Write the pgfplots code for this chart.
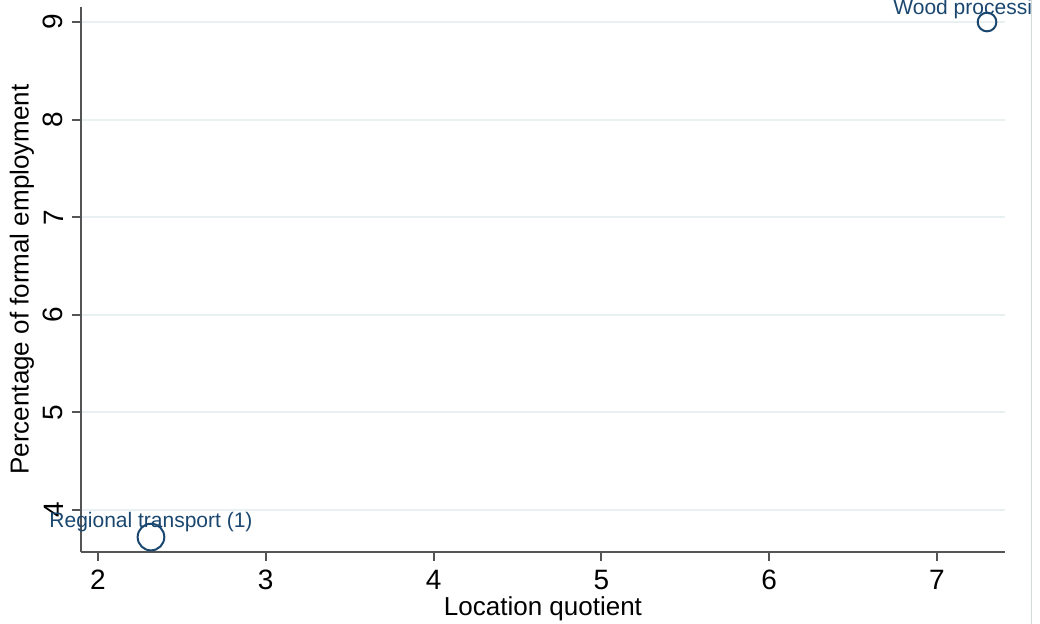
\documentclass[border=0pt]{standalone}
\usepackage{fontspec}
\setmainfont{Liberation Sans}
\usepackage{pgfplots}
\pgfplotsset{compat=1.18}
\definecolor{stnavy}{RGB}{26,71,111}
\definecolor{gridc}{RGB}{232,240,242}
\definecolor{axc}{RGB}{85,85,85}
\begin{document}
\begin{tikzpicture}
\path[use as bounding box] (0,0) rectangle (780pt,468pt);
\draw[gridc!80!gray, line width=0.75pt] (773.6pt,0) -- (773.6pt,468pt);
\begin{scope}
\clip (0,0) rectangle (772.5pt,468pt);
\begin{axis}[
  at={(60.75pt,54pt)}, anchor=south west,
  scale only axis, width=693pt, height=408.75pt,
  xmin=1.899, xmax=7.405, ymin=3.570, ymax=9.154,
  axis x line*=bottom, axis y line*=left,
  axis line style={axc, line width=1.5pt, -},
  tick align=outside, major tick length=6.5pt,
  tick style={axc, line width=1.5pt},
  xtick={2,3,4,5,6,7}, ytick={4,5,6,7,8,9},
  ymajorgrids, grid style={gridc, line width=1.5pt},
  /pgf/number format/assume math mode=true,
  ticklabel style={font=\fontsize{21}{24}\selectfont, text=black, inner sep=0pt},
  yticklabel style={rotate=90, anchor=south},
  xticklabel shift=7pt, yticklabel shift=6.75pt,
  label style={font=\fontsize{19.5}{22}\selectfont},
  xlabel={Location quotient},
  ylabel={Percentage of formal employment},
  xlabel style={at={(axis description cs:0.5,-0.1046)}, anchor=center},
  ylabel style={at={(axis description cs:-0.0639,0.5)}, anchor=center},
  clip=false,
  every node near coord/.append style={anchor=base, inner sep=0pt, yshift=7.5pt, font=\fontsize{15.75}{18}\selectfont, text=stnavy},
]
\addplot[only marks, mark=o, mark size=10pt, draw=stnavy, mark options={line width=1.5pt},
  nodes near coords, point meta=explicit symbolic]
  coordinates {(2.316,3.723) [Regional transport (1)]};
\addplot[only marks, mark=o, mark size=7pt, draw=stnavy, mark options={line width=1.5pt},
  nodes near coords, point meta=explicit symbolic,
  every node near coord/.append style={xshift=-9.5pt, yshift=-1.5pt}]
  coordinates {(7.298,9) [Wood processing]};
\end{axis}
\end{scope}
\end{tikzpicture}
\end{document}
